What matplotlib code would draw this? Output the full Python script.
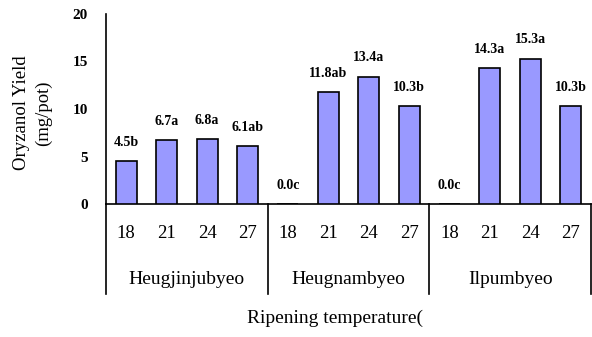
import matplotlib
matplotlib.use("Agg")
import matplotlib.pyplot as plt
import numpy as np

plt.rcParams['font.family'] = ['Liberation Serif', 'DejaVu Serif']

groups = ["Heugjinjubyeo", "Heugnambyeo", "Ilpumbyeo"]
temps = ["18", "21", "24", "27"]
values = [4.5, 6.7, 6.8, 6.1,
          0.0, 11.8, 13.4, 10.3,
          0.0, 14.3, 15.3, 10.3]
bar_labels = ["4.5b", "6.7a", "6.8a", "6.1ab",
              "0.0c", "11.8ab", "13.4a", "10.3b",
              "0.0c", "14.3a", "15.3a", "10.3b"]
y_ticks = [0, 5, 10, 15, 20]

W, H = 592, 337
fig = plt.figure(figsize=(W / 100, H / 100), dpi=100)
ax = fig.add_axes([106 / W, 1 - 204 / H, (591 - 106) / W, (204 - 14) / H])

x = np.arange(len(values))
ax.bar(x, values, width=0.52, color="#9999FF", edgecolor="black", linewidth=1.2, zorder=3)
ax.set_xlim(-0.5, len(values) - 0.5)
ax.set_ylim(0, 20)

for xi, v, lab in zip(x, values, bar_labels):
    ax.annotate(lab, (xi, v), xytext=(0, 13.5), textcoords="offset points",
                ha="center", va="center", fontsize=10, fontweight="bold")

ax.set_yticks(y_ticks)
ax.set_yticklabels([str(t) for t in y_ticks], fontsize=11, fontweight="bold")
ax.tick_params(axis="y", length=0, pad=13)
ax.set_xticks([])

for s in ["top", "right"]:
    ax.spines[s].set_visible(False)
for s in ["left", "bottom"]:
    ax.spines[s].set_linewidth(1.2)

# category table below the axis
bottom = (204 - 294) / (204 - 14)
ntemp = len(temps)
ngroup = len(groups)
for g in range(ngroup + 1):
    xf = g / ngroup
    ax.plot([xf, xf], [0, bottom], transform=ax.transAxes, color="black",
            linewidth=1.2, clip_on=False)

trans = matplotlib.transforms.blended_transform_factory(ax.transData, ax.transAxes)
for i, xi in enumerate(x):
    ax.text(xi, (204 - 233) / 190, temps[i % ntemp], transform=trans,
            ha="center", va="center", fontsize=13.5)
for g, name in enumerate(groups):
    xc = g * ntemp + (ntemp - 1) / 2
    ax.text(xc, (204 - 280) / 190, name, transform=trans,
            ha="center", va="center", fontsize=14)

ax.text((335 - 106) / 485, (204 - 318) / 190, "Ripening temperature(",
        transform=ax.transAxes, ha="center", va="center", fontsize=14)

fig.text(32.5 / W, 1 - 113 / H, "Oryzanol Yield\n(mg/pot)", rotation=90,
         ha="center", va="center", fontsize=13.5, linespacing=1.3,
         multialignment="center")

fig.savefig("out.png", dpi=100)
